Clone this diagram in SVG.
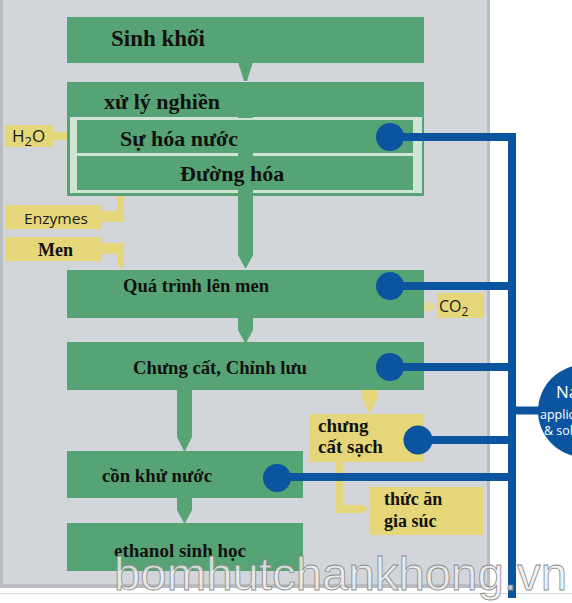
<svg xmlns="http://www.w3.org/2000/svg" width="572" height="603" viewBox="0 0 572 603">
<defs>
<style>
.g{fill:#56a475}
.pale{fill:#cfe4d5}
.y{fill:#e6d67a}
.lbl{font-family:"Liberation Serif","Times New Roman",serif;font-weight:bold;fill:#111}
.sans{font-family:"Open Sans","Liberation Sans",Arial,sans-serif;fill:#1a1a1a}
.bl{stroke:#0b55a0;stroke-width:8;fill:none}
.dot{fill:#0b55a0}
.wt{fill:#ffffff;font-family:"Open Sans","Liberation Sans",sans-serif}
</style>
</defs>
<rect x="0" y="0" width="572" height="603" fill="#ffffff"/>
<g id="panel">
<rect x="0" y="0" width="490" height="588" fill="#d2d5d9"/>
<rect x="0" y="0" width="3" height="588" fill="#b9bcc0"/>
<rect x="487" y="0" width="3" height="588" fill="#b9bcc0"/>
<rect x="0" y="584" width="490" height="4" fill="#b9bcc0"/>
<rect x="0" y="593" width="572" height="1" fill="#d6d6d6"/>
</g>
<g id="arrows">
<path class="g" d="M238 62 H253 L247 81 H244 Z"/>
<path class="g" d="M238 318 H253 V330 L246 343 H245 L238 330 Z"/>
<path class="g" d="M177 389 H192 V437 L185 451 H184 L177 437 Z"/>
<path class="g" d="M177 497 H192 V510 L185 523 H184 L177 510 Z"/>
<path class="y" d="M53 132 H67 L74 136 L67 140 H53 Z"/>
<path class="y" d="M100 211 H117 V197 L120.5 192 L124 197 V222 H100 Z"/>
<path class="y" d="M100 243 H124 V264 L120.5 269 L117 264 V254 H100 Z"/>
<path fill="#e3d89a" d="M424 302 H431 L437 306.5 L431 311 H424 Z"/>
<path class="y" d="M362 389 H377 V399 L370 413 H369 L362 399 Z"/>
<path class="y" d="M336 461 H343 V505 H362 L369 509 L362 513 H336 Z"/>
</g>
<g id="n-sinhkhoi">
<rect class="g" x="67" y="17" width="357" height="46"/>
<text class="lbl" x="111" y="46" font-size="23">Sinh khối</text>
</g>
<g id="n-xuly">
<rect class="g" x="67" y="82" width="357" height="114"/>
<rect class="pale" x="70" y="117" width="352" height="76"/>
<text class="lbl" x="104" y="109" font-size="22">xử lý nghiền</text>
</g>
<g id="n-suhoanuoc">
<rect class="g" x="77" y="120" width="336" height="33"/>
<text class="lbl" x="120" y="146" font-size="22">Sự hóa nước</text>
</g>
<g id="n-duonghoa">
<rect class="g" x="77" y="156" width="336" height="34"/>
<text class="lbl" x="180" y="181" font-size="22">Đường hóa</text>
</g>
<g id="trunk">
<rect class="g" x="238" y="112" width="15" height="6"/>
<rect class="g" x="238" y="152" width="15" height="5"/>
<path class="g" d="M238 189 H253 V255 L246 268 H245 L238 255 Z"/>
</g>
<g id="n-lenmen">
<rect class="g" x="67" y="270" width="357" height="48"/>
<text class="lbl" x="123" y="292" font-size="18" textLength="146" lengthAdjust="spacingAndGlyphs">Quá trình lên men</text>
</g>
<g id="n-chungcat">
<rect class="g" x="67" y="342" width="357" height="48"/>
<text class="lbl" x="133" y="374" font-size="18" textLength="174" lengthAdjust="spacingAndGlyphs">Chưng cất, Chỉnh lưu</text>
</g>
<g id="n-con">
<rect class="g" x="67" y="451" width="236" height="47"/>
<text class="lbl" x="102" y="482" font-size="18.5" textLength="110" lengthAdjust="spacingAndGlyphs">cồn khử nước</text>
</g>
<g id="n-ethanol">
<rect class="g" x="67" y="523" width="236" height="48"/>
<text class="lbl" x="114" y="557" font-size="18.5" textLength="132" lengthAdjust="spacingAndGlyphs">ethanol sinh học</text>
</g>
<g id="n-h2o">
<rect class="y" x="5" y="125" width="48" height="22"/>
<text class="sans" x="12" y="142" font-size="17">H<tspan font-size="13" dy="4">2</tspan><tspan dy="-4">O</tspan></text>
</g>
<g id="n-enzymes">
<rect class="y" x="6" y="205" width="96" height="24"/>
<text class="sans" x="24" y="224" font-size="15" textLength="64" lengthAdjust="spacingAndGlyphs">Enzymes</text>
</g>
<g id="n-men">
<rect class="y" x="6" y="237" width="96" height="24"/>
<text class="lbl" x="38" y="256" font-size="18">Men</text>
</g>
<g id="n-co2">
<rect class="y" x="437" y="293" width="47" height="25"/>
<text class="sans" x="439" y="312" font-size="16">CO<tspan font-size="12" dy="4">2</tspan></text>
</g>
<g id="n-chungcatsach">
<rect class="y" x="309" y="414" width="115" height="48"/>
<text class="lbl" x="318" y="432" font-size="19">chưng</text>
<text class="lbl" x="318" y="453" font-size="19">cất sạch</text>
</g>
<g id="n-thucan">
<rect class="y" x="369" y="487" width="114" height="48"/>
<text class="lbl" x="384" y="505" font-size="18">thức ăn</text>
<text class="lbl" x="384" y="527" font-size="18">gia súc</text>
</g>
<g id="connectors">
<path class="bl" d="M390 137 H512 V598"/>
<path class="bl" d="M390 286 H512"/>
<path class="bl" d="M390 367 H512"/>
<path class="bl" d="M418 440 H512"/>
<path class="bl" d="M277 477 H512"/>
<path class="bl" d="M512 410.5 H545"/>
<circle class="dot" cx="390" cy="137" r="14"/>
<circle class="dot" cx="390" cy="286" r="14"/>
<circle class="dot" cx="390" cy="367" r="14"/>
<circle class="dot" cx="418" cy="440" r="14.5"/>
<circle class="dot" cx="277" cy="478" r="14"/>
</g>
<g id="n-na">
<circle class="dot" cx="584" cy="411" r="46"/>
<text class="wt" x="556" y="398" font-size="17">Na</text>
<text class="wt" x="540" y="419" font-size="12.5">applic</text>
<text class="wt" x="544" y="435" font-size="12.5">&amp; sol</text>
</g>
<g id="watermark">
<text x="114" y="590" font-size="47" textLength="453" lengthAdjust="spacingAndGlyphs" fill="#f0f0f0" fill-opacity="0.8" stroke="#8a8a8a" stroke-width="0.8" font-family="Liberation Sans, Arial, sans-serif">bomhutchankhong.vn</text>
</g>
</svg>
